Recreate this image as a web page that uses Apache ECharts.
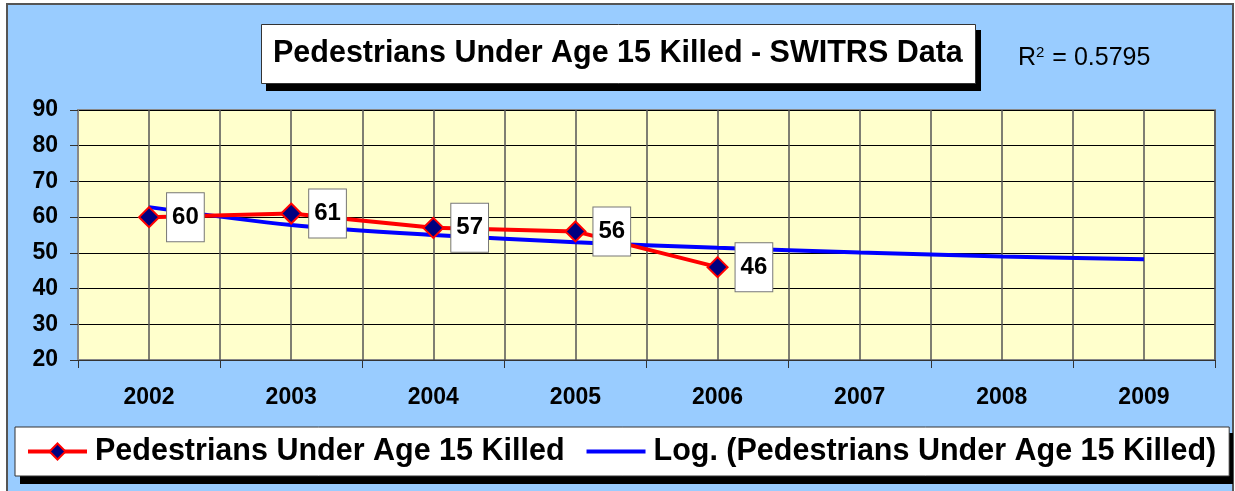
<!DOCTYPE html>
<html>
  <head>
    <meta charset="utf-8" />
    <title>Pedestrians Under Age 15 Killed - SWITRS Data</title>
    <script src="https://cdn.jsdelivr.net/npm/echarts@6/dist/echarts.min.js"></script>
    <style>
      body { margin:0; padding:0; background:#fff; }
      #frame { position:absolute; left:6px; top:3px; width:1224px; height:494px; background:#99ccff; border:2px solid #555; }
      #Chart { position:absolute; left:0; top:0; width:1235px; height:491px; }
    </style>
  </head>

  <body>
    <div id="frame"></div>
    <div id="Chart"></div>
    <script type="text/javascript">
      var years = ['2002', '2003', '2004', '2005', '2006', '2007', '2008', '2009'];
      var killed = [60, 61, 57, 56, 46];
      // logarithmic trend line
      var trend = [62.8, 57.8, 55.0, 53.0, 51.4, 50.1, 49.0, 48.2];
      var yTicks = { min: 20, max: 90, interval: 10 };

      var font = '"Liberation Sans", Arial, sans-serif';
      var myChart = echarts.init(document.getElementById('Chart'), null, { renderer: 'canvas' });

      myChart.setOption({
        animation: false,
        // hard black drop shadows behind the title box and the legend box
        graphic: [
          { type: 'rect', z: 1, shape: { x: 266, y: 30, width: 715, height: 61 }, style: { fill: '#000' } },
          { type: 'rect', z: 1, shape: { x: 20, y: 433, width: 1213, height: 51 }, style: { fill: '#000' } }
        ],
        title: [{
          text: 'Pedestrians Under Age 15 Killed - SWITRS Data',
          left: 261, top: 24,
          padding: [14, 13, 15, 12],
          backgroundColor: '#fff',
          borderColor: '#333', borderWidth: 1,
          textStyle: { fontFamily: font, fontSize: 30.5, fontWeight: 'bold', color: '#000' }
        }, {
          text: 'R{sup|2} = 0.5795',
          left: 1018, top: 45,
          padding: 0,
          textStyle: {
            fontFamily: font, fontSize: 25, fontWeight: 'normal', color: '#000',
            rich: { sup: { fontFamily: font, fontSize: 15, color: '#000', padding: [0, 1, 12, 0] } }
          }
        }],
        legend: {
          left: 15, top: 427,
          padding: [9, 13, 9, 11],
          itemGap: 20,
          itemWidth: 59, itemHeight: 20,
          backgroundColor: '#fff',
          borderColor: '#333', borderWidth: 1,
          textStyle: { fontFamily: font, fontSize: 30.5, fontWeight: 'bold', color: '#000', padding: [0, 0, 0, 3] },
          data: [
            { name: 'Pedestrians Under Age 15 Killed', lineStyle: { width: 4 } },
            { name: 'Log. (Pedestrians Under Age 15 Killed)', itemStyle: { opacity: 0 }, lineStyle: { width: 4 } }
          ]
        },
        grid: {
          left: 78, right: 20, top: 110, bottom: 131,
          show: true, backgroundColor: '#ffffcc', borderColor: '#888', borderWidth: 2
        },
        xAxis: [{
          type: 'category',
          data: years,
          axisLine: { lineStyle: { color: '#333', width: 1 } },
          axisTick: { show: true, length: 8, lineStyle: { color: '#333' } },
          axisLabel: { margin: 26, fontFamily: font, fontSize: 23, fontWeight: 'bold', color: '#000' },
          splitLine: { show: false }
        }, {
          // only used for the vertical grid lines (centres and boundaries)
          type: 'value', min: 0.5, max: 8.5, interval: 0.5,
          position: 'bottom',
          axisLine: { show: false }, axisTick: { show: false }, axisLabel: { show: false },
          splitLine: { show: true, lineStyle: { color: '#555', width: 1.5 } }
        }],
        yAxis: {
          type: 'value',
          min: yTicks.min, max: yTicks.max, interval: yTicks.interval,
          axisLine: { show: true, lineStyle: { color: '#888', width: 2 } },
          axisTick: { show: true, length: 8, lineStyle: { color: '#333' } },
          axisLabel: { margin: 20, fontFamily: font, fontSize: 23, fontWeight: 'bold', color: '#000' },
          splitLine: { show: true, lineStyle: { color: '#000', width: 1 } }
        },
        series: [{
          name: 'Log. (Pedestrians Under Age 15 Killed)',
          type: 'line',
          data: trend,
          smooth: 0.3,
          symbol: 'none',
          lineStyle: { color: '#0000ff', width: 4 },
          itemStyle: { color: '#0000ff' },
          z: 2
        }, {
          name: 'Pedestrians Under Age 15 Killed',
          type: 'line',
          data: killed,
          symbol: 'diamond',
          symbolSize: 20,
          lineStyle: { color: '#ff0000', width: 4 },
          itemStyle: { color: '#000080', borderColor: '#ff0000', borderWidth: 2 },
          label: {
            show: true, position: 'right', distance: 7,
            fontFamily: font, fontSize: 24, fontWeight: 'bold', color: '#000',
            backgroundColor: '#fff', borderColor: '#777', borderWidth: 1,
            padding: [12, 5, 12, 5]
          },
          z: 3
        }]
      });
    </script>
  </body>
</html>
